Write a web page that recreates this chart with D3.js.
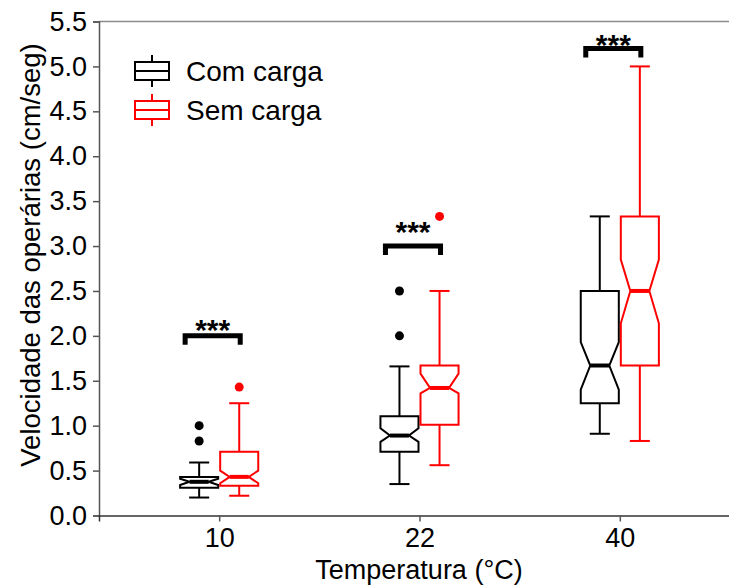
<!DOCTYPE html>
<html>
<head>
<meta charset="utf-8">
<script src="https://cdn.jsdelivr.net/npm/d3@7"></script>
<style>
    body { margin: 0; background: #fff; }
    svg { display: block; font-family: "Liberation Sans", Arial, sans-serif; }
</style>
</head>
<body>
<svg width="729" height="588"></svg>
<script>
// Temperaturas (eixo x) e grupos
var temperatures = ["10", "22", "40"];
var groups = ["Com carga", "Sem carga"];

// [whisker inf, Q1, mediana, Q3, whisker sup, notch inf, notch sup]
var comCarga = [
    [0.20, 0.31, 0.375, 0.43, 0.59, 0.34, 0.41],
    [0.35, 0.71, 0.89, 1.105, 1.66, 0.82, 0.97],
    [0.91, 1.25, 1.67, 2.50, 3.33, 1.40, 1.93]
];
var semCarga = [
    [0.22, 0.33, 0.43, 0.71, 1.25, 0.36, 0.50],
    [0.56, 1.01, 1.42, 1.67, 2.50, 1.36, 1.58],
    [0.83, 1.67, 2.50, 3.33, 5.00, 2.14, 2.85]
];
var comCargaOutliers = [[1.0, 0.83], [2.5, 2.0], []];
var semCargaOutliers = [[1.43], [3.33], []];

var yTicks = [0, 0.5, 1.0, 1.5, 2.0, 2.5, 3.0, 3.5, 4.0, 4.5, 5.0, 5.5];

// Significância
var signif = ["***", "***", "***"];
var bracketY = [2.0, 3.0, 5.2];
var starY = [2.14, 3.23, 5.32];

window.onload = main;

function main() {
    var svg = d3.select("svg");
    var colors = ["#000000", "#ff0000"];

    var x = d3.scalePoint().domain(temperatures).range([99, 740]).padding(0.6);
    var y = d3.scaleLinear().domain([0, 5.5]).range([515.5, 21.5]);
    var step = x.step();

    var dodge = 0.1 * step,  // metade da distância entre caixas
        boxW = 0.19 * step,
        capW = 0.1 * step;

    // borda superior
    svg.append("line")
        .attr("x1", 99).attr("x2", 740)
        .attr("y1", 21.5).attr("y2", 21.5)
        .attr("stroke", "#8c8c8c").attr("stroke-width", 1.5);

    // Eixo y
    var yAxis = svg.append("g")
        .attr("transform", "translate(99,0)")
        .call(d3.axisLeft(y).tickValues(yTicks).tickFormat(d3.format(".1f")).tickSize(6).tickPadding(6));
    yAxis.select(".domain").attr("stroke", "#555").attr("stroke-width", 1.5);
    yAxis.selectAll(".tick line").attr("stroke", "#555").attr("stroke-width", 1.5);
    yAxis.selectAll("text").attr("font-size", 27).attr("fill", "#000")
        .attr("font-family", "Liberation Sans, Arial, sans-serif");

    // Eixo x
    var xAxis = svg.append("g")
        .attr("transform", "translate(0,515.5)")
        .call(d3.axisBottom(x).tickSizeOuter(0).tickSize(6).tickPadding(6));
    xAxis.select(".domain").attr("stroke", "#333").attr("stroke-width", 1.5);
    xAxis.selectAll(".tick line").attr("stroke", "#555").attr("stroke-width", 1.5);
    xAxis.selectAll("text").attr("font-size", 27).attr("fill", "#000")
        .attr("font-family", "Liberation Sans, Arial, sans-serif");

    // Títulos
    svg.append("text")
        .attr("x", 419).attr("y", 579)
        .attr("text-anchor", "middle")
        .attr("font-size", 27)
        .text("Temperatura (°C)");
    svg.append("text")
        .attr("transform", "translate(40,255) rotate(-90)")
        .attr("text-anchor", "middle")
        .attr("font-size", 27.5)
        .text("Velocidade das operárias (cm/seg)");

    // Boxplots
    var series = [comCarga, semCarga];
    var outliers = [comCargaOutliers, semCargaOutliers];

    series.forEach(function (stats, gi) {
        var g = svg.append("g").attr("class", "group" + gi);
        var col = colors[gi];

        stats.forEach(function (s, ti) {
            var cx = x(temperatures[ti]) + (gi === 0 ? -dodge : dodge);
            var x0 = cx - boxW / 2, x1 = cx + boxW / 2;
            var ind = boxW * 0.25;

            // whiskers
            g.append("line")
                .attr("x1", cx).attr("x2", cx)
                .attr("y1", y(s[0])).attr("y2", y(s[1]))
                .attr("stroke", col).attr("stroke-width", 2);
            g.append("line")
                .attr("x1", cx).attr("x2", cx)
                .attr("y1", y(s[3])).attr("y2", y(s[4]))
                .attr("stroke", col).attr("stroke-width", 2);
            [s[0], s[4]].forEach(function (v) {
                g.append("line")
                    .attr("x1", cx - capW / 2).attr("x2", cx + capW / 2)
                    .attr("y1", y(v)).attr("y2", y(v))
                    .attr("stroke", col).attr("stroke-width", 2);
            });

            // caixa com entalhe
            var pts = [
                [x0, y(s[3])], [x0, y(s[6])], [x0 + ind, y(s[2])], [x0, y(s[5])], [x0, y(s[1])],
                [x1, y(s[1])], [x1, y(s[5])], [x1 - ind, y(s[2])], [x1, y(s[6])], [x1, y(s[3])]
            ];
            g.append("path")
                .attr("d", d3.line()(pts) + "Z")
                .attr("fill", "#fff")
                .attr("stroke", col).attr("stroke-width", 2)
                .attr("stroke-linejoin", "miter");
            g.append("line")
                .attr("x1", x0 + ind).attr("x2", x1 - ind)
                .attr("y1", y(s[2])).attr("y2", y(s[2]))
                .attr("stroke", col).attr("stroke-width", 4);

            // outliers
            g.selectAll(null)
                .data(outliers[gi][ti])
                .enter()
                .append("circle")
                .attr("cx", cx)
                .attr("cy", (d) => y(d))
                .attr("r", 4.5)
                .attr("fill", col);
        });
    });

    // Significância
    temperatures.forEach(function (t, i) {
        var bx0 = x(t) - 0.17 * step, bx1 = x(t) + 0.105 * step;
        var by = y(bracketY[i]);
        svg.append("path")
            .attr("d", "M" + bx0 + "," + (by + 9) + "V" + by + "H" + bx1 + "V" + (by + 9))
            .attr("fill", "none")
            .attr("stroke", "#000").attr("stroke-width", 5)
            .attr("stroke-linejoin", "miter");
        svg.append("text")
            .attr("x", (bx0 + bx1) / 2)
            .attr("y", y(starY[i]) + 17)
            .attr("text-anchor", "middle")
            .attr("font-size", 30)
            .attr("font-weight", "bold")
            .text(signif[i]);
    });

    // Legenda
    var legend = svg.append("g").attr("class", "legend");
    groups.forEach(function (name, i) {
        var cy = 71 + i * 39, cx = 152;
        var col = colors[i];
        legend.append("line")
            .attr("x1", cx).attr("x2", cx)
            .attr("y1", cy - 16).attr("y2", cy + 16)
            .attr("stroke", col).attr("stroke-width", 2);
        legend.append("rect")
            .attr("x", cx - 17).attr("y", cy - 9)
            .attr("width", 34).attr("height", 18)
            .attr("fill", "#fff")
            .attr("stroke", col).attr("stroke-width", 2);
        legend.append("line")
            .attr("x1", cx - 17).attr("x2", cx + 17)
            .attr("y1", cy).attr("y2", cy)
            .attr("stroke", col).attr("stroke-width", 2);
        legend.append("text")
            .attr("x", 186)
            .attr("y", cy + 10)
            .attr("font-size", 28)
            .text(name);
    });
}
</script>
</body>
</html>
